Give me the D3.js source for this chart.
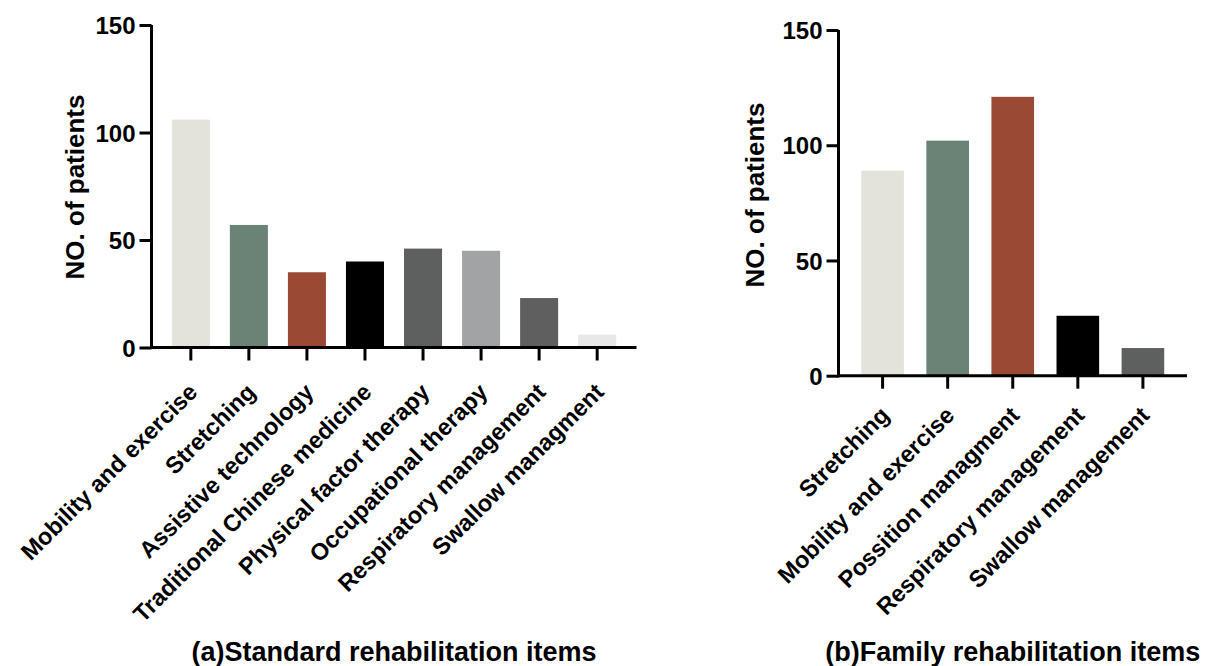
<!DOCTYPE html>
<html>
<head>
<meta charset="utf-8">
<script src="https://cdn.jsdelivr.net/npm/d3@7"></script>
<style>
  html, body { margin: 0; padding: 0; background: #fff; }
  svg { display: block; }
  text { font-family: "Liberation Sans", Arial, sans-serif; font-weight: bold; fill: #000; }
</style>
</head>
<body>
<svg id="chart" width="1220" height="666"></svg>
<script>
// ---- Data ----
const categoriesA = ["Mobility and exercise", "Stretching", "Assistive technology", "Traditional Chinese medicine",
  "Physical factor therapy", "Occupational therapy", "Respiratory management", "Swallow managment"];
const valuesA = [106, 57, 35, 40, 46, 45, 23, 6];
const colorsA = ["#e3e3dc", "#6b8377", "#9a4a34", "#000000", "#5e5f5f", "#a2a3a5", "#5f5f5f", "#e8e8e8"];

const categoriesB = ["Stretching", "Mobility and exercise", "Possition managment", "Respiratory management", "Swallow management"];
const valuesB = [89, 102, 121, 26, 12];
const colorsB = ["#e3e3dc", "#6b8377", "#9a4a34", "#000000", "#5e5f5f"];

const yTicks = [0, 50, 100, 150];
const yLabel = "NO. of patients";
const titleA = "(a)Standard rehabilitation items";
const titleB = "(b)Family rehabilitation items";

const svg = d3.select("#chart");

function drawPanel(cfg) {
  const g = svg.append("g");
  const x = d3.scaleBand().domain(cfg.categories).range([cfg.x0, cfg.x1])
    .paddingInner(0.345).paddingOuter(0.35);
  const y = d3.scaleLinear().domain([0, 150]).range([cfg.y0, cfg.y1]);

  // bars
  g.selectAll("rect.bar").data(cfg.values).enter().append("rect")
    .attr("class", "bar")
    .attr("x", (d, i) => x(cfg.categories[i]))
    .attr("width", x.bandwidth())
    .attr("y", d => y(d))
    .attr("height", d => y(0) - y(d))
    .attr("fill", (d, i) => cfg.colors[i]);

  // y axis
  const yAxis = d3.axisLeft(y).tickValues(yTicks).tickSize(12).tickPadding(4).tickSizeOuter(0);
  const ya = g.append("g").attr("transform", `translate(${cfg.x0},0)`).call(yAxis);
  ya.select(".domain").attr("stroke", "#000").attr("stroke-width", 3)
    .attr("d", `M0,${cfg.y0 + 1.5}V${cfg.y1}`);
  ya.selectAll(".tick line").attr("stroke", "#000").attr("stroke-width", 3);
  ya.selectAll(".tick text").style("font-size", "24px").attr("font-family", null).attr("dy", "0.36em");

  // x axis
  const xAxis = d3.axisBottom(x).tickSize(13).tickSizeOuter(0).tickFormat("");
  const xa = g.append("g").attr("transform", `translate(0,${cfg.y0})`).call(xAxis);
  xa.select(".domain").attr("stroke", "#000").attr("stroke-width", 3)
    .attr("d", `M${cfg.x0 - 1.5},0H${cfg.x1}`);
  xa.selectAll(".tick line").attr("stroke", "#000").attr("stroke-width", 3);

  // rotated category labels
  g.selectAll("text.cat").data(cfg.categories).enter().append("text")
    .attr("class", "cat")
    .attr("text-anchor", "end")
    .style("font-size", cfg.catSize + "px")
    .attr("transform", d => `translate(${x(d) + x.bandwidth() / 2 + cfg.catDx},${cfg.y0 + cfg.catDy}) rotate(-45)`)
    .text(d => d);

  // y label
  g.append("text")
    .attr("text-anchor", "middle")
    .style("font-size", "26px")
    .attr("transform", `translate(${cfg.yLabelX},${cfg.yLabelY}) rotate(-90)`)
    .text(yLabel);

  // title
  g.append("text")
    .attr("text-anchor", "middle")
    .style("font-size", "27px")
    .attr("x", (cfg.x0 + cfg.x1) / 2)
    .attr("y", 661)
    .text(cfg.title);
}

drawPanel({
  categories: categoriesA, values: valuesA, colors: colorsA, title: titleA,
  x0: 151.5, x1: 636.5, y0: 347.5, y1: 25,
  catDx: 8, catDy: 46, catSize: 23.5,
  yLabelX: 84, yLabelY: 187
});

drawPanel({
  categories: categoriesB, values: valuesB, colors: colorsB, title: titleB,
  x0: 838.5, x1: 1187, y0: 375.7, y1: 30,
  catDx: 8, catDy: 41, catSize: 23.5,
  yLabelX: 764, yLabelY: 195
});
</script>
</body>
</html>
